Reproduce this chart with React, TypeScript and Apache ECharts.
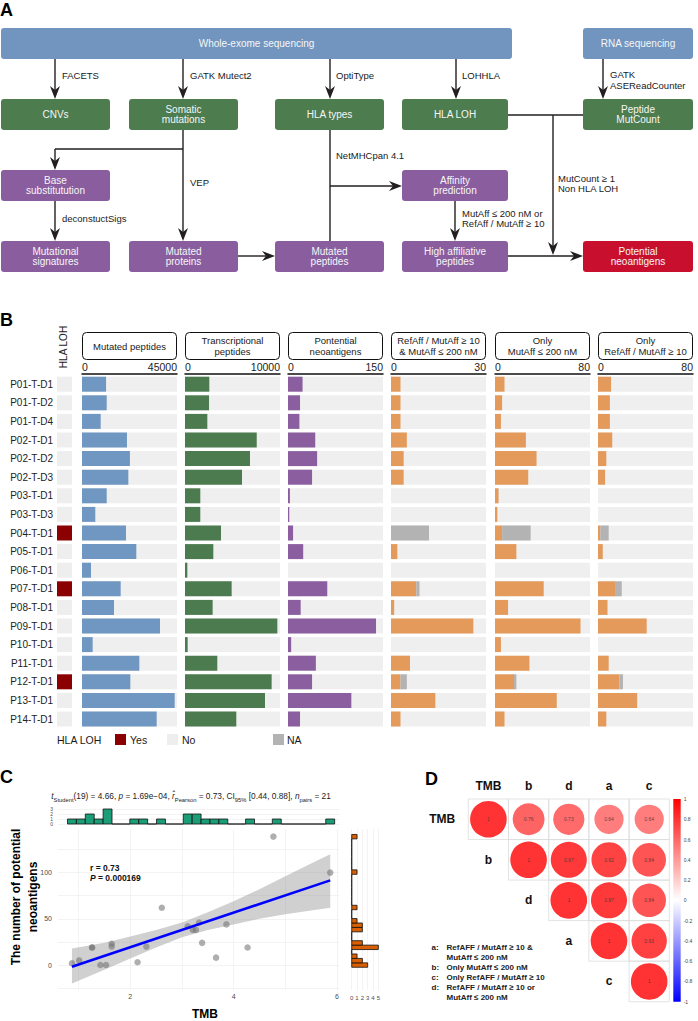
import React, { useEffect, useRef } from 'react';
import * as echarts from 'echarts';

const FONT = "'Liberation Sans', Arial, Helvetica, sans-serif";

// ---------------- Panel B data ----------------
const samples = ['P01-T-D1', 'P01-T-D2', 'P01-T-D4', 'P02-T-D1', 'P02-T-D2', 'P02-T-D3', 'P03-T-D1', 'P03-T-D3', 'P04-T-D1', 'P05-T-D1', 'P06-T-D1', 'P07-T-D1', 'P08-T-D1', 'P09-T-D1', 'P10-T-D1', 'P11-T-D1', 'P12-T-D1', 'P13-T-D1', 'P14-T-D1'];
const hlaLoh = ['No', 'No', 'No', 'No', 'No', 'No', 'No', 'No', 'Yes', 'No', 'No', 'Yes', 'No', 'No', 'No', 'No', 'Yes', 'No', 'No'];
const panelTitles = ['Mutated peptides', 'Transcriptional\npeptides', 'Pontential\nneoantigens', 'RefAff / MutAff ≥ 10\n& MutAff ≤ 200 nM', 'Only\nMutAff ≤ 200 nM', 'Only\nRefAff / MutAff ≥ 10'];
const panelMax = [45000, 10000, 150, 30, 80, 80];
const mutatedPeptides = [11400, 11700, 8850, 21300, 22700, 21950, 11700, 6300, 20840, 25730, 4260, 18320, 15160, 36950, 5050, 27160, 22890, 43900, 35370];
const transcriptionalPeptides = [2560, 2530, 2350, 7550, 6840, 6000, 1610, 1610, 3790, 2980, 245, 4910, 2910, 9720, 280, 3400, 9120, 8420, 5400];
const potentialNeoantigens = [23, 19, 18, 43, 46, 38, 3, 2, 8, 24, 0, 62, 20, 139, 5, 44, 38, 100, 19];
const bothAff = [3, 3, 3, 5, 4, 4, 0, 0, 0, 2, 0, 8, 1, 26, 0, 6, 3, 14, 3];
const bothAffNA = [0, 0, 0, 0, 0, 0, 0, 0, 12, 0, 0, 1, 0, 0, 0, 0, 2, 0, 0];
const onlyMutAff = [8, 6, 5, 26, 35, 28, 3, 2, 6, 18, 0, 41, 11, 72, 5, 29, 16, 52, 8];
const onlyMutAffNA = [0, 0, 0, 0, 0, 0, 0, 0, 24, 0, 0, 0, 0, 0, 0, 0, 2, 0, 0];
const onlyRefAff = [11, 10, 10, 12, 7, 6, 0, 0, 2, 4, 0, 15, 8, 41, 0, 9, 18, 33, 7];
const onlyRefAffNA = [0, 0, 0, 0, 0, 0, 0, 0, 7, 0, 0, 5, 0, 0, 0, 0, 3, 0, 0];

// ---------------- Panel C data ----------------
const tmbValues = [0.87, 1.01, 1.26, 1.26, 1.42, 1.53, 1.64, 1.64, 2.14, 2.31, 2.61, 3.11, 3.21, 3.27, 3.33, 3.39, 3.66, 3.86, 4.27, 4.77, 5.87];
const neoValues = [2, 5, 19, 19, 0, 0, 23, 20, 3, 20, 62, 42, 38, 38, 46, 24, 8, 44, 19, 139, 100];
const fitX = [0.87, 5.87];
const fitY = [-1.8, 91.6];
const bandX = [0.87, 1.5, 2, 2.5, 3, 3.5, 4, 4.5, 5, 5.5, 5.87];
const bandLo = [-20, -5, 7, 19, 30, 38, 44, 50, 55, 59, 62];
const bandHi = [18, 24, 31, 38, 46, 57, 69, 82, 96, 110, 120];
const tmbBinStart = 0.87;
const tmbBinWidth = 0.1724;
const tmbCounts = [1, 1, 2, 1, 3, 0, 0, 1, 1, 0, 1, 0, 0, 2, 2, 1, 1, 1, 0, 0, 1, 0, 0, 1, 0, 0, 0, 0, 0, 1];
const neoBinStart = 0;
const neoBinWidth = 4.79;
const neoCounts = [3, 2, 1, 0, 5, 2, 0, 0, 2, 2, 1, 0, 0, 1, 0, 0, 0, 0, 0, 0, 0, 1, 0, 0, 0, 0, 0, 0, 0, 1];

// ---------------- Panel D data ----------------
const corrVars = ['TMB', 'b', 'd', 'a', 'c'];
const corrRowTMB = [1, 0.76, 0.73, 0.64, 0.64];
const corrRowB = [1, 0.97, 0.92, 0.84];
const corrRowD = [1, 0.97, 0.84];
const corrRowA = [1, 0.93];
const corrRowC = [1];
const colorbarTicks = [-1, -0.8, -0.6, -0.4, -0.2, 0, 0.2, 0.4, 0.6, 0.8, 1];

const INK = '#231f20';
const A_BLUE = '#7195bf', A_GREEN = '#4d7c4f', A_PURPLE = '#8a5d9f', A_RED = '#c8102e';
const B_BLUE = '#7097c1', B_GREEN = '#4c7b4f', B_PURPLE = '#8b5e9f', B_ORANGE = '#e39a5b';
const NA_GREY = '#b3b3b3', BG = '#efefef', YES = '#8b0000', NO = '#eeeeee';

const panelLeft = [82, 185, 288, 391, 495, 598];
const panelW = 95;

const txt = (x: number, y: number, text: string, o: any = {}) => ({
  type: 'text', x, y, silent: true,
  style: { text, fill: '#1a1a1a', fontSize: 9.5, fontFamily: FONT, align: 'left', verticalAlign: 'middle', ...o },
});
const seg = (x1: number, y1: number, x2: number, y2: number) => ({
  type: 'line', silent: true, shape: { x1, y1, x2, y2 }, style: { stroke: INK, lineWidth: 1.4 },
});
const downArrow = (x: number, y1: number, y2: number) => [
  seg(x, y1, x, y2 - 8),
  { type: 'polygon', silent: true, shape: { points: [[x, y2], [x - 5, y2 - 13], [x, y2 - 9], [x + 5, y2 - 13]] }, style: { fill: INK } },
];
const rightArrow = (x1: number, x2: number, y: number) => [
  seg(x1, y, x2 - 8, y),
  { type: 'polygon', silent: true, shape: { points: [[x2, y], [x2 - 13, y - 5], [x2 - 9, y], [x2 - 13, y + 5]] }, style: { fill: INK } },
];
const box = (x: number, y: number, w: number, h: number, fill: string, label: string) => [
  { type: 'rect', silent: true, shape: { x, y, width: w, height: h, r: 3 }, style: { fill } },
  txt(x + w / 2, y + h / 2, label, { fill: '#f6f6f6', fontSize: 10, align: 'center', lineHeight: 10.5 }),
];

function buildGraphic(): any[] {
  const els: any[] = [];
  els.push(txt(0, 10, 'A', { fontSize: 18, fontWeight: 'bold', fill: '#000' }));
  els.push(txt(0, 320, 'B', { fontSize: 18, fontWeight: 'bold', fill: '#000' }));
  els.push(txt(0, 777, 'C', { fontSize: 18, fontWeight: 'bold', fill: '#000' }));
  els.push(txt(425, 779, 'D', { fontSize: 18, fontWeight: 'bold', fill: '#000' }));

  // ---- Panel A flowchart ----
  els.push(...box(1, 28, 511, 31, A_BLUE, 'Whole-exome sequencing'));
  els.push(...box(583, 28, 110, 31, A_BLUE, 'RNA sequencing'));
  els.push(...box(1, 99, 109, 31, A_GREEN, 'CNVs'));
  els.push(...box(129, 99, 109, 31, A_GREEN, 'Somatic\nmutations'));
  els.push(...box(275, 99, 109, 31, A_GREEN, 'HLA types'));
  els.push(...box(402, 99, 106, 31, A_GREEN, 'HLA LOH'));
  els.push(...box(583, 99, 110, 31, A_GREEN, 'Peptide\nMutCount'));
  els.push(...box(1, 170, 109, 31, A_PURPLE, 'Base\nsubstitutution'));
  els.push(...box(402, 170, 106, 31, A_PURPLE, 'Affinity\nprediction'));
  els.push(...box(1, 241, 109, 31, A_PURPLE, 'Mutational\nsignatures'));
  els.push(...box(129, 241, 109, 31, A_PURPLE, 'Mutated\nproteins'));
  els.push(...box(275, 241, 109, 31, A_PURPLE, 'Mutated\npeptides'));
  els.push(...box(402, 241, 106, 31, A_PURPLE, 'High affiliative\npeptides'));
  els.push(...box(583, 241, 110, 31, A_RED, 'Potential\nneoantigens'));

  els.push(...downArrow(55, 59, 99));
  els.push(txt(62, 75, 'FACETS'));
  els.push(...downArrow(183, 59, 99));
  els.push(txt(190, 75, 'GATK Mutect2'));
  els.push(...downArrow(330, 59, 99));
  els.push(txt(336, 75, 'OptiType'));
  els.push(...downArrow(456, 59, 99));
  els.push(txt(462, 75, 'LOHHLA'));
  els.push(...downArrow(603, 59, 99));
  els.push(txt(610, 74, 'GATK'));
  els.push(txt(610, 85, 'ASEReadCounter'));

  els.push(...downArrow(183, 130, 241));
  els.push(seg(183, 149, 55, 149));
  els.push(...downArrow(55, 149, 170));
  els.push(txt(190, 182, 'VEP'));
  els.push(...downArrow(55, 201, 241));
  els.push(txt(62, 218, 'deconstuctSigs'));
  els.push(...rightArrow(238, 275, 256));

  els.push(seg(330, 130, 330, 241));
  els.push(...rightArrow(330, 402, 186));
  els.push(txt(336, 155, 'NetMHCpan 4.1'));
  els.push(...downArrow(455, 201, 241));
  els.push(txt(462, 213, 'MutAff ≤ 200 nM or'));
  els.push(txt(462, 223, 'RefAff / MutAff ≥ 10'));
  els.push(...rightArrow(508, 583, 256));
  els.push(seg(508, 115, 583, 115));
  els.push(...downArrow(553, 115, 255));
  els.push(txt(558, 178, 'MutCount ≥ 1'));
  els.push(txt(558, 188, 'Non HLA LOH'));

  // ---- Panel B headers ----
  els.push({ type: 'text', x: 63, y: 347, rotation: Math.PI / 2, silent: true,
    style: { text: 'HLA LOH', fontSize: 10, fontFamily: FONT, fill: '#1a1a1a', align: 'center', verticalAlign: 'middle' } });
  panelLeft.forEach((l, i) => {
    els.push({ type: 'rect', silent: true, shape: { x: l + 0.5, y: 332.5, width: 94, height: 27, r: 4 }, style: { fill: '#fff', stroke: '#111', lineWidth: 1 } });
    els.push(txt(l + 47.5, 346, panelTitles[i], { align: 'center', fontSize: 9.5, lineHeight: 10.5 }));
  });
  els.push(txt(57, 739.5, 'HLA LOH', { fontSize: 10.5 }));
  els.push({ type: 'rect', silent: true, shape: { x: 115, y: 734, width: 11, height: 11 }, style: { fill: YES } });
  els.push(txt(130, 739.5, 'Yes', { fontSize: 10.5 }));
  els.push({ type: 'rect', silent: true, shape: { x: 167, y: 734, width: 11, height: 11 }, style: { fill: NO } });
  els.push(txt(182, 739.5, 'No', { fontSize: 10.5 }));
  els.push({ type: 'rect', silent: true, shape: { x: 273, y: 734, width: 11, height: 11 }, style: { fill: NA_GREY } });
  els.push(txt(287, 739.5, 'NA', { fontSize: 10.5 }));

  // ---- Panel C texts ----
  els.push(txt(191, 796, '{i|t}{s|Student}(19) = 4.66, {i|p} = 1.69e−04, {i|r̂}{s|Pearson} = 0.73, CI{s|95%} [0.44, 0.88], {i|n}{s|pairs} = 21', {
    align: 'center', fontSize: 8.3, lineHeight: 13, fill: '#222',
    rich: {
      i: { fontStyle: 'italic', fontSize: 8.3, lineHeight: 13, fontFamily: FONT, fill: '#222' },
      s: { fontSize: 5.8, verticalAlign: 'bottom', lineHeight: 13, fontFamily: FONT, fill: '#222' },
    },
  }));
  els.push(txt(90, 868, 'r = 0.73', { fontSize: 8.5, fontWeight: 'bold', fill: '#111' }));
  els.push(txt(90, 878, '{p|P} = 0.000169', { fontSize: 8.5, fontWeight: 'bold', fill: '#111',
    rich: { p: { fontStyle: 'italic', fontWeight: 'bold', fontSize: 8.5, fontFamily: FONT, fill: '#111' } } }));
  els.push({ type: 'text', x: 24, y: 897, rotation: Math.PI / 2, silent: true,
    style: { text: 'The number of potential\nneoantigens', fontSize: 12, fontWeight: 'bold', lineHeight: 17, fontFamily: FONT, fill: '#000', align: 'center', verticalAlign: 'middle' } });
  els.push(txt(205, 1014, 'TMB', { fontSize: 12, fontWeight: 'bold', fill: '#000', align: 'center' }));

  // ---- Panel D row labels, colorbar & legend ----
  els.push({ type: 'rect', silent: true, shape: { x: 673.3, y: 799, width: 7.4, height: 202.7 },
    style: { fill: new echarts.graphic.LinearGradient(0, 0, 0, 1, [
      { offset: 0, color: '#ff0000' }, { offset: 0.5, color: '#ffffff' }, { offset: 1, color: '#0000ff' }]) } });
  const legendRows: [string, string, number][] = [
    ['a:', 'RefAFF / MutAff ≥ 10 &', 947.5],
    ['', 'MutAff ≤ 200 nM', 957.3],
    ['b:', 'Only MutAff ≤ 200 nM', 967.3],
    ['c:', 'Only RefAFF / MutAff ≥ 10', 977.3],
    ['d:', 'RefAFF / MutAff ≥ 10 or', 987.3],
    ['', 'MutAff ≤ 200 nM', 997.3],
  ];
  legendRows.forEach(([k, t, y]) => {
    if (k) els.push(txt(431.5, y, k, { fontSize: 8, fontWeight: 'bold', fill: '#222' }));
    els.push(txt(446.5, y, t, { fontSize: 8, fontWeight: 'bold', fill: '#222' }));
  });
  return els;
}

function buildOption(): any {
  const grid: any[] = [];
  const xAxis: any[] = [];
  const yAxis: any[] = [];
  const series: any[] = [];
  const bTop = 374.9, bH = 353.4;

  grid.push({ left: 57, top: bTop, width: 15, height: bH });
  xAxis.push({ type: 'value', gridIndex: 0, min: 0, max: 1, show: false });
  yAxis.push({ type: 'category', gridIndex: 0, data: samples, inverse: true, axisLine: { show: false }, axisTick: { show: false },
    axisLabel: { fontSize: 10, color: '#222', margin: 4, fontFamily: FONT } });
  series.push({ type: 'bar', xAxisIndex: 0, yAxisIndex: 0, barWidth: 15, silent: true,
    data: hlaLoh.map((s) => ({ value: 1, itemStyle: { color: s === 'Yes' ? YES : NO } })) });

  const panelSeries: { data: number[]; color: string }[][] = [
    [{ data: mutatedPeptides, color: B_BLUE }],
    [{ data: transcriptionalPeptides, color: B_GREEN }],
    [{ data: potentialNeoantigens, color: B_PURPLE }],
    [{ data: bothAff, color: B_ORANGE }, { data: bothAffNA, color: NA_GREY }],
    [{ data: onlyMutAff, color: B_ORANGE }, { data: onlyMutAffNA, color: NA_GREY }],
    [{ data: onlyRefAff, color: B_ORANGE }, { data: onlyRefAffNA, color: NA_GREY }],
  ];
  panelSeries.forEach((ps, i) => {
    const gi = i + 1;
    grid.push({ left: panelLeft[i], top: bTop, width: panelW, height: bH });
    xAxis.push({ type: 'value', gridIndex: gi, min: 0, max: panelMax[i], position: 'top', offset: 1.5,
      axisLine: { show: true, lineStyle: { color: '#111', width: 1.5 } }, axisTick: { show: false }, splitLine: { show: false },
      axisLabel: { customValues: [0, panelMax[i]], formatter: (v: number) => String(v), fontSize: 10.5, color: '#222', margin: 1,
        fontFamily: FONT, alignMinLabel: 'left', alignMaxLabel: 'right' } });
    yAxis.push({ type: 'category', gridIndex: gi, data: samples, inverse: true, show: false });
    ps.forEach((s, k) => {
      series.push({ type: 'bar', xAxisIndex: gi, yAxisIndex: gi, barWidth: 15, stack: 'p' + gi, silent: true,
        data: s.data, itemStyle: { color: s.color },
        showBackground: k === 0, backgroundStyle: { color: BG } });
    });
  });

  // ---- Panel C ----
  const cx = { min: 0.6, max: 6.04 };
  const cy = { min: -27, max: 147.2 };
  grid.push({ left: 58, top: 806, width: 281, height: 20 });
  xAxis.push({ type: 'value', gridIndex: 7, ...cx, show: false });
  yAxis.push({ type: 'value', gridIndex: 7, min: -0.4, max: 3.6, axisLine: { show: false },
    axisTick: { show: false, customValues: [0, 1, 2, 3] },
    axisLabel: { customValues: [0, 1, 2, 3], fontSize: 5, lineHeight: 5, hideOverlap: false, color: '#4d4d4d', margin: 5, fontFamily: FONT },
    splitLine: { show: true, lineStyle: { color: '#ebebeb', width: 0.6 } } });
  grid.push({ left: 58, top: 829, width: 281, height: 161 });
  xAxis.push({ type: 'value', gridIndex: 8, ...cx, axisLine: { show: false },
    axisTick: { show: false, customValues: [1, 2, 3, 4, 5, 6] },
    axisLabel: { customValues: [2, 4, 6], fontSize: 7, color: '#4d4d4d', margin: 3, fontFamily: FONT },
    splitLine: { show: true, lineStyle: { color: '#ebebeb', width: 0.6 } } });
  yAxis.push({ type: 'value', gridIndex: 8, ...cy, axisLine: { show: false },
    axisTick: { show: false, customValues: [-25, 0, 25, 50, 75, 100, 125] },
    axisLabel: { customValues: [0, 50, 100], fontSize: 7, color: '#4d4d4d', margin: 6, fontFamily: FONT },
    splitLine: { show: true, lineStyle: { color: '#ebebeb', width: 0.6 } } });
  grid.push({ left: 348, top: 829, width: 34, height: 161 });
  xAxis.push({ type: 'value', gridIndex: 9, min: -0.7, max: 5.69, axisLine: { show: false },
    axisTick: { show: false, customValues: [0, 1, 2, 3, 4, 5] },
    axisLabel: { customValues: [0, 1, 2, 3, 4, 5], fontSize: 6, hideOverlap: false, color: '#4d4d4d', margin: 5, fontFamily: FONT },
    splitLine: { show: true, lineStyle: { color: '#ebebeb', width: 0.6 } } });
  yAxis.push({ type: 'value', gridIndex: 9, ...cy, show: false });

  series.push({ type: 'custom', xAxisIndex: 8, yAxisIndex: 8, silent: true,
    data: bandX.map((x, i) => [x, bandLo[i], bandHi[i]]),
    renderItem: (params: any, api: any) => {
      if (params.dataIndex !== 0) return null;
      const upper = bandX.map((x, i) => api.coord([x, bandHi[i]]));
      const lower = bandX.map((x, i) => api.coord([x, bandLo[i]])).reverse();
      return { type: 'polygon', shape: { points: upper.concat(lower) }, style: { fill: 'rgba(150,150,150,0.45)' } };
    } });
  series.push({ type: 'line', xAxisIndex: 8, yAxisIndex: 8, silent: true, symbol: 'none',
    data: fitX.map((x, i) => [x, fitY[i]]), lineStyle: { color: '#0000ff', width: 2.6 } });
  series.push({ type: 'scatter', xAxisIndex: 8, yAxisIndex: 8, silent: true, symbolSize: 6.5,
    data: tmbValues.map((x, i) => [x, neoValues[i]]), itemStyle: { color: 'rgba(115,115,115,0.72)' } });
  series.push({ type: 'custom', xAxisIndex: 7, yAxisIndex: 7, silent: true,
    data: tmbCounts.map((n, i) => [tmbBinStart + i * tmbBinWidth, n]),
    renderItem: (params: any, api: any) => {
      const c = api.value(0), n = api.value(1);
      const p0 = api.coord([c - tmbBinWidth / 2, n]);
      const p1 = api.coord([c + tmbBinWidth / 2, 0]);
      return { type: 'rect', shape: { x: p0[0], y: p0[1], width: p1[0] - p0[0], height: p1[1] - p0[1] },
        style: { fill: '#1b9e77', stroke: '#111', lineWidth: 0.8 } };
    } });
  series.push({ type: 'custom', xAxisIndex: 9, yAxisIndex: 9, silent: true,
    data: neoCounts.map((n, i) => [n, neoBinStart + i * neoBinWidth]),
    renderItem: (params: any, api: any) => {
      const n = api.value(0), c = api.value(1);
      const p0 = api.coord([0, c + neoBinWidth / 2]);
      const p1 = api.coord([n, c - neoBinWidth / 2]);
      return { type: 'rect', shape: { x: p0[0], y: p0[1], width: p1[0] - p0[0], height: p1[1] - p0[1] },
        style: { fill: '#d95f02', stroke: '#111', lineWidth: 0.8 } };
    } });

  // ---- Panel D ----
  grid.push({ left: 468.3, top: 799, width: 201, height: 202.7 });
  xAxis.push({ type: 'value', gridIndex: 10, min: -0.5, max: 4.5, position: 'top', axisLine: { show: false },
    axisTick: { show: false, customValues: [0, 1, 2, 3, 4] }, splitLine: { show: false },
    axisLabel: { customValues: [0, 1, 2, 3, 4], formatter: (v: number) => corrVars[Math.round(v)], fontSize: 12,
      fontWeight: 'bold', color: '#111', margin: 7, fontFamily: FONT } });
  yAxis.push({ type: 'value', gridIndex: 10, min: -0.5, max: 4.5, inverse: true, show: false });
  const corrRows = [corrRowTMB, corrRowB, corrRowD, corrRowA, corrRowC];
  const cells: number[][] = [];
  const circles: number[][] = [];
  corrRows.forEach((row, r) => row.forEach((v, k) => { cells.push([r + k, r]); circles.push([r + k, r, v]); }));
  series.push({ type: 'custom', xAxisIndex: 10, yAxisIndex: 10, silent: true, data: cells,
    renderItem: (params: any, api: any) => {
      const c = api.value(0), r = api.value(1);
      const p0 = api.coord([c - 0.5, r - 0.5]);
      const p1 = api.coord([c + 0.5, r + 0.5]);
      return { type: 'rect', shape: { x: p0[0], y: p0[1], width: p1[0] - p0[0], height: p1[1] - p0[1] },
        style: { fill: 'none', stroke: '#dcdcdc', lineWidth: 0.8 } };
    } });
  const circleIndex = series.length;
  series.push({ type: 'scatter', xAxisIndex: 10, yAxisIndex: 10, silent: true, data: circles,
    symbolSize: (val: number[]) => 36.6 * Math.sqrt(Math.abs(val[2])),
    label: { show: true, position: 'inside', fontSize: 5, color: '#333', fontFamily: FONT,
      formatter: (p: any) => (p.value[2] === 1 ? '1' : p.value[2].toFixed(2)) } });
  // row labels placed just left of each row's first cell
  series.push({ type: 'custom', xAxisIndex: 10, yAxisIndex: 10, silent: true, clip: false,
    data: corrVars.map((name, r) => [r - 1, r]),
    renderItem: (params: any, api: any) => {
      const p = api.coord([api.value(0), api.value(1)]);
      return { type: 'text', x: p[0] + (params.dataIndex === 0 ? -6 : 0), y: p[1],
        style: { text: corrVars[params.dataIndex], fontSize: 12, fontWeight: 'bold', fill: '#111', fontFamily: FONT,
          align: 'center', verticalAlign: 'middle' } };
    } });
  grid.push({ left: 673.3, top: 799, width: 7.4, height: 202.7 });
  xAxis.push({ type: 'value', gridIndex: 11, show: false });
  yAxis.push({ type: 'value', gridIndex: 11, min: -1, max: 1, position: 'right', axisLine: { show: false },
    axisTick: { show: false, customValues: colorbarTicks }, splitLine: { show: false },
    axisLabel: { customValues: colorbarTicks, fontSize: 5, hideOverlap: false, color: '#444', margin: 3, fontFamily: FONT } });

  return {
    animation: false,
    textStyle: { fontFamily: FONT },
    grid, xAxis, yAxis, series,
    visualMap: [{ type: 'continuous', show: false, min: -1, max: 1, dimension: 2, seriesIndex: [circleIndex],
      inRange: { color: ['#0000ff', '#ffffff', '#ff0000'] } }],
    graphic: { elements: buildGraphic() },
  };
}

export default function App() {
  const ref = useRef<HTMLDivElement>(null);
  useEffect(() => {
    const chart = echarts.init(ref.current as HTMLDivElement, null, { renderer: 'svg' });
    chart.setOption(buildOption());
    return () => chart.dispose();
  }, []);
  return <div ref={ref} style={{ position: 'absolute', left: 0, top: 0, width: 698, height: 1021, background: '#fff' }} />;
}
